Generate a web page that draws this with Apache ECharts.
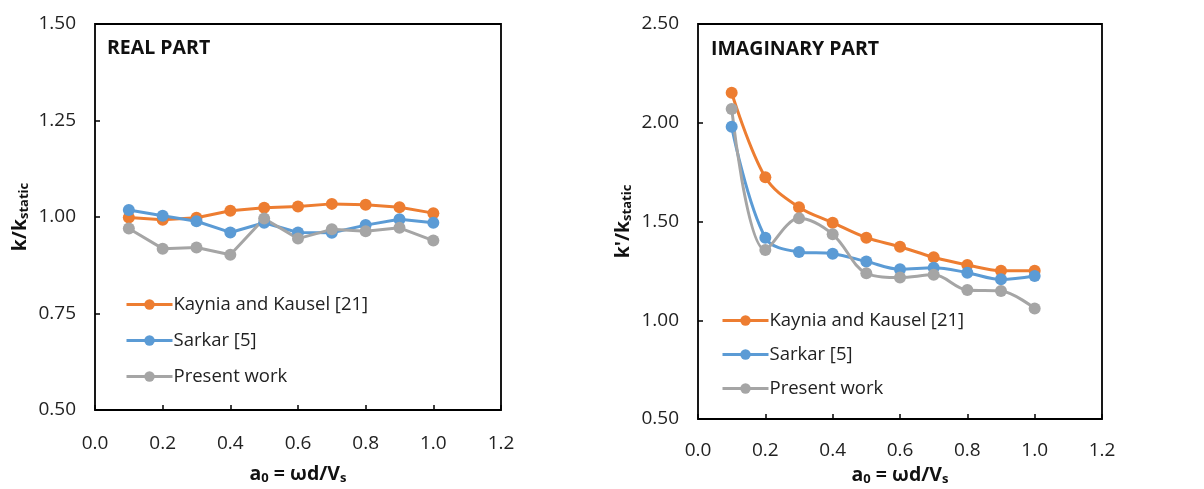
<!DOCTYPE html>
<html>
<head>
<meta charset="utf-8">
<script src="https://cdn.jsdelivr.net/npm/echarts@6/dist/echarts.min.js"></script>
<style>
  html, body { margin: 0; padding: 0; background: #fff; }
  #main { width: 1204px; height: 489px; }
</style>
</head>
<body>
<div id="main"></div>
<script>
// 数据
var a0 = [0.1, 0.2, 0.3, 0.4, 0.5, 0.6, 0.7, 0.8, 0.9, 1.0];
var seriesNames = ['Kaynia and Kausel [21]', 'Sarkar [5]', 'Present work'];

// 实部
var realKaynia = [0.999, 0.993, 0.998, 1.016, 1.024, 1.027, 1.034, 1.032, 1.025, 1.010];
var realSarkar = [1.018, 1.003, 0.989, 0.960, 0.985, 0.960, 0.959, 0.979, 0.994, 0.985];
var realPresent = [0.970, 0.918, 0.921, 0.902, 0.996, 0.944, 0.968, 0.963, 0.972, 0.939];

// 虚部
var imagKaynia = [2.152, 1.724, 1.572, 1.494, 1.418, 1.372, 1.319, 1.280, 1.251, 1.251];
var imagSarkar = [1.980, 1.418, 1.346, 1.337, 1.298, 1.258, 1.266, 1.241, 1.207, 1.224];
var imagPresent = [2.070, 1.356, 1.516, 1.435, 1.238, 1.216, 1.230, 1.153, 1.148, 1.060];

var colors = ['#ED7D31', '#5B9BD5', '#A5A5A5'];
var font = 'Open Sans';

function pairs(ys) {
    return a0.map(function(x, i) { return [x, ys[i]]; });
}

function xAxisOpt(idx) {
    return {
        type: 'value', gridIndex: idx, min: 0, max: 1.2, interval: 0.2,
        axisLine: { show: false },
        axisTick: { show: true, inside: true, length: 5, lineStyle: { color: '#000', width: 1.5 } },
        splitLine: { show: false },
        axisLabel: {
            color: '#222', fontFamily: font, fontSize: 19, margin: idx == 0 ? 24 : 22,
            formatter: function(v) { return v.toFixed(1); }
        },
        name: '{b|a}{s|0}{b| = ωd/V}{s|s}',
        nameLocation: 'middle', nameGap: idx == 0 ? 53 : 45,
        nameTextStyle: {
            rich: {
                b: { fontFamily: font, fontWeight: 'bold', fontSize: 19.5, color: '#111' },
                s: { fontFamily: font, fontWeight: 'bold', fontSize: 13, color: '#111', padding: [9, 0, 0, 0] }
            }
        }
    };
}

function yAxisOpt(idx, min, max, step, mainTxt) {
    return {
        type: 'value', gridIndex: idx, min: min, max: max, interval: step,
        axisLine: { show: false },
        axisTick: { show: true, inside: true, length: 5, lineStyle: { color: '#000', width: 1.5 } },
        splitLine: { show: false },
        axisLabel: {
            color: '#222', fontFamily: font, fontSize: 19, margin: 19,
            formatter: function(v) { return v.toFixed(2); }
        },
        name: '{b|' + mainTxt + '}{s|static}',
        nameLocation: 'middle', nameGap: 64, nameRotate: 90,
        nameTextStyle: {
            rich: {
                b: { fontFamily: font, fontWeight: 'bold', fontSize: 19.5, color: '#111' },
                s: { fontFamily: font, fontWeight: 'bold', fontSize: 13, color: '#111', padding: [9, 0, 0, 0] }
            }
        }
    };
}

function lineSeries(name, data, color, idx, smooth) {
    return {
        name: name, type: 'line', xAxisIndex: idx, yAxisIndex: idx,
        data: pairs(data), smooth: smooth,
        symbol: 'circle', symbolSize: 12,
        lineStyle: { color: color, width: 3 },
        itemStyle: { color: color },
        z: 3
    };
}

var chart = echarts.init(document.getElementById('main'));

var legendText = { fontFamily: font, fontSize: 18.5, color: '#222', padding: [0, 0, 0, -4] };

var option = {
    animation: false,
    color: colors,
    grid: [
        { left: 95, top: 24, width: 406, height: 386, show: true, borderColor: '#000', borderWidth: 1.8, outerBoundsMode: 'none', containLabel: false },
        { left: 698, top: 24, width: 404, height: 395, show: true, borderColor: '#000', borderWidth: 1.8, outerBoundsMode: 'none', containLabel: false }
    ],
    title: [
        { text: 'REAL PART', left: 102, top: 33, textStyle: { fontFamily: font, fontWeight: 'bold', fontSize: 19.5, color: '#111' } },
        { text: 'IMAGINARY PART', left: 706, top: 34, textStyle: { fontFamily: font, fontWeight: 'bold', fontSize: 19.5, color: '#111' } }
    ],
    legend: [
        {
            orient: 'vertical', left: 120, top: 290, itemWidth: 46, itemHeight: 13, itemGap: 17,
            data: seriesNames, lineStyle: { width: 3 },
            textStyle: legendText
        },
        {
            orient: 'vertical', left: 716, top: 306, itemWidth: 46, itemHeight: 13, itemGap: 15,
            data: seriesNames, lineStyle: { width: 3 },
            textStyle: legendText
        }
    ],
    xAxis: [xAxisOpt(0), xAxisOpt(1)],
    yAxis: [
        yAxisOpt(0, 0.5, 1.5, 0.25, 'k/k'),
        yAxisOpt(1, 0.5, 2.5, 0.5, "k'/k")
    ],
    series: [
        lineSeries(seriesNames[0], realKaynia, colors[0], 0, false),
        lineSeries(seriesNames[1], realSarkar, colors[1], 0, false),
        lineSeries(seriesNames[2], realPresent, colors[2], 0, false),
        lineSeries(seriesNames[0], imagKaynia, colors[0], 1, 0.35),
        lineSeries(seriesNames[1], imagSarkar, colors[1], 1, 0.35),
        lineSeries(seriesNames[2], imagPresent, colors[2], 1, 0.35)
    ]
};

chart.setOption(option);
</script>
</body>
</html>
